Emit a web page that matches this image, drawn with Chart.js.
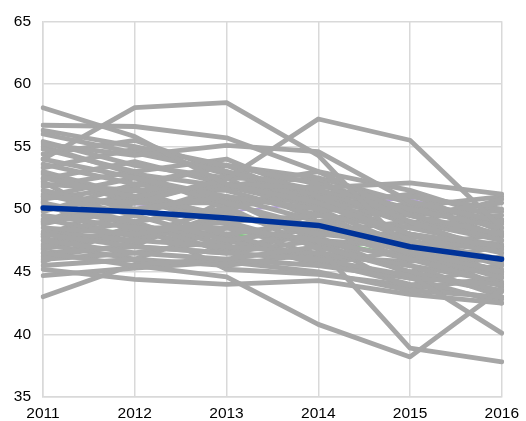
<!DOCTYPE html>
<html>
<head>
<meta charset="utf-8">
<script src="https://cdn.jsdelivr.net/npm/chart.js@4"></script>
<style>
  html, body { margin: 0; padding: 0; background: #fff; }
  #wrap { width: 526px; height: 421px; position: relative; }
</style>
</head>
<body>
<div id="wrap"><canvas id="chartCanvas"></canvas></div>
<script>
// Years on the x axis
const years = ['2011', '2012', '2013', '2014', '2015', '2016'];

// Highlighted series (dark blue)
const average = [50.1, 49.8, 49.3, 48.7, 47.0, 46.0];

// Series mostly hidden under the grey bundle
const purpleLine = [51.0, 50.4, 49.8, 50.5, 50.8, 49.0];
const greenLine = [48.5, 48.2, 48.0, 47.6, 46.2, 46.0];

// Grey background series
const greyLines = [
    [58.1, 55.8, 52.0, 50.5, 48.0, 47.0],
    [54.0, 58.1, 58.5, 54.3, 46.6, 45.0],
    [56.7, 56.6, 55.7, 53.0, 49.5, 48.0],
    [51.0, 50.5, 52.4, 57.2, 55.5, 48.5],
    [55.2, 54.3, 55.1, 54.6, 50.6, 49.0],
    [52.5, 51.0, 52.0, 51.7, 52.1, 51.2],
    [46.5, 45.5, 44.6, 40.8, 38.2, 43.6],
    [47.5, 46.5, 46.0, 47.0, 38.9, 37.8],
    [48.0, 47.0, 46.5, 46.0, 44.7, 40.1],
    [43.0, 45.6, 46.0, 45.5, 44.5, 44.0],
    [45.2, 44.4, 44.0, 44.3, 43.2, 42.5],
    [44.7, 45.3, 45.8, 45.0, 43.5, 43.0],
    [56.3, 55.0, 53.5, 52.0, 49.5, 47.5],
    [56.0, 54.5, 53.0, 51.5, 50.0, 48.5],
    [55.4, 53.5, 52.5, 52.3, 49.0, 46.5],
    [54.8, 53.0, 54.0, 51.0, 48.0, 45.5],
    [54.4, 55.5, 53.0, 50.5, 47.5, 46.0],
    [54.0, 52.5, 51.0, 50.0, 49.5, 50.5],
    [53.6, 52.0, 53.5, 52.5, 50.5, 49.0],
    [52.4, 53.8, 52.0, 51.0, 51.0, 50.0],
    [52.0, 51.5, 51.5, 49.5, 48.5, 47.0],
    [51.5, 50.0, 51.0, 50.0, 47.0, 45.0],
    [51.0, 52.5, 50.5, 48.5, 46.5, 44.5],
    [50.5, 49.0, 50.0, 51.5, 49.0, 47.5],
    [50.0, 51.0, 49.5, 48.0, 48.0, 46.5],
    [49.5, 48.5, 48.5, 47.5, 46.0, 44.0],
    [49.0, 50.0, 48.0, 49.0, 47.5, 45.5],
    [48.5, 48.0, 49.0, 47.0, 45.0, 43.5],
    [48.0, 49.5, 47.5, 48.5, 46.0, 44.8],
    [47.5, 47.5, 47.0, 46.5, 45.5, 43.0],
    [47.0, 48.5, 48.0, 46.0, 44.5, 42.5],
    [46.5, 47.0, 46.5, 47.5, 47.0, 45.0],
    [46.0, 46.5, 47.5, 45.8, 44.0, 42.8],
    [45.5, 46.0, 45.5, 46.5, 45.5, 44.2],
    [53.0, 51.0, 49.0, 49.5, 48.5, 49.5],
    [52.8, 50.5, 52.5, 49.0, 47.0, 48.0],
    [51.8, 53.0, 50.0, 52.0, 50.0, 49.8],
    [50.8, 51.8, 53.5, 50.5, 49.8, 48.8],
    [49.8, 52.0, 51.0, 49.0, 50.5, 47.8],
    [48.8, 50.5, 50.5, 50.8, 48.0, 46.8],
    [48.2, 47.5, 49.5, 48.2, 49.0, 48.0],
    [47.8, 49.0, 46.5, 48.8, 46.5, 45.8],
    [47.2, 46.0, 48.5, 47.2, 45.0, 46.2],
    [46.8, 48.2, 47.8, 45.5, 46.8, 43.8],
    [49.2, 47.8, 50.2, 46.8, 47.8, 47.2],
    [50.2, 48.8, 47.2, 49.8, 46.2, 45.2],
    [55.0, 52.8, 51.8, 50.2, 51.2, 48.2],
    [53.3, 54.8, 52.8, 51.2, 48.8, 50.8],
    [51.2, 49.5, 51.8, 53.0, 51.5, 49.2],
    [49.0, 51.5, 49.2, 48.8, 50.2, 51.0],
    [47.8, 50.8, 48.8, 46.2, 45.8, 47.0],
    [46.2, 47.2, 49.8, 47.8, 44.8, 43.4],
    [52.2, 48.2, 46.8, 48.0, 47.3, 46.8],
    [50.6, 47.0, 50.8, 47.4, 43.6, 44.6],
    [45.8, 48.8, 45.2, 44.8, 43.9, 45.6]
];

const yTicks = [35, 40, 45, 50, 55, 60, 65];

const GREY = '#a6a6a6';
const BLUE = '#003399';
const GRID = '#d9d9d9';

function lineSet(data, color, width, order) {
    return {
        data: data,
        borderColor: color,
        backgroundColor: color,
        borderWidth: width,
        pointRadius: 0,
        pointHoverRadius: 0,
        tension: 0,
        fill: false,
        borderJoinStyle: 'round',
        borderCapStyle: 'round',
        order: order
    };
}

const datasets = [lineSet(average, BLUE, 5.5, 0)];
greyLines.forEach(d => datasets.push(lineSet(d, GREY, 4.8, 1)));
datasets.push(lineSet(purpleLine, '#b39ddb', 2, 2));
datasets.push(lineSet(greenLine, '#7fc97f', 2, 2));

const tickFont = { family: '"Liberation Sans", Arial, sans-serif', size: 15.5 };

new Chart(document.getElementById('chartCanvas'), {
    type: 'line',
    data: { labels: years, datasets: datasets },
    options: {
        responsive: true,
        maintainAspectRatio: false,
        animation: false,
        events: [],
        layout: { padding: { top: 19, right: 19, left: 0, bottom: 0 } },
        plugins: {
            legend: { display: false },
            tooltip: { enabled: false }
        },
        scales: {
            x: {
                type: 'category',
                offset: false,
                grid: { color: GRID, lineWidth: 1.5, drawTicks: false },
                border: { color: GRID, width: 1.5 },
                ticks: {
                    color: '#000',
                    font: tickFont,
                    padding: 7,
                    maxRotation: 0,
                    autoSkip: false
                },
                afterFit: function(scale) { scale.height = 24; }
            },
            y: {
                min: 35,
                max: 65,
                afterBuildTicks: function(scale) {
                    scale.ticks = yTicks.map(v => ({ value: v }));
                },
                grid: { color: GRID, lineWidth: 1.5, drawTicks: false },
                border: { color: GRID, width: 1.5 },
                ticks: {
                    color: '#000',
                    font: tickFont,
                    padding: 12
                },
                afterFit: function(scale) { scale.width = 43; }
            }
        }
    }
});
</script>
</body>
</html>
